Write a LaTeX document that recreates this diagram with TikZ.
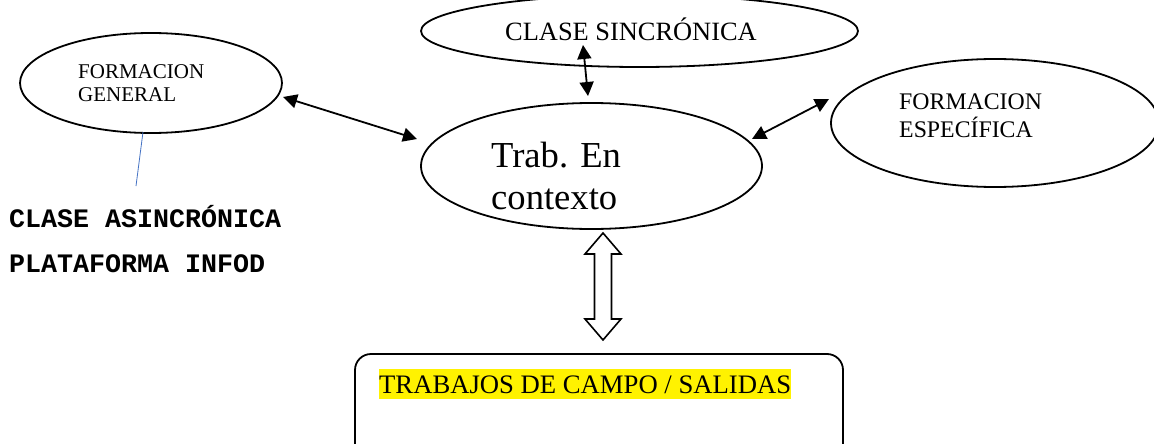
\documentclass[tikz,border=0pt]{standalone}
\usepackage{fontspec}
\setmainfont{Liberation Serif}
\setmonofont{Liberation Mono}
\usetikzlibrary{shapes.geometric,arrows.meta}
\begin{document}
\begin{tikzpicture}[x=1pt,y=-1pt,
  oval/.style={draw,ellipse,line width=1.8pt,inner sep=0pt},
  lbl/.style={anchor=base west,inner sep=0pt},
  conn/.style={line width=1.8pt,{Triangle[length=14pt,width=14pt]}-{Triangle[length=14pt,width=14pt]}},
  hollow/.style={draw,line width=1.6pt,fill=white},
]
\useasboundingbox (0,0) rectangle (1154,444);
\clip (0,0) rectangle (1154,444);
\fill[white] (0,0) rectangle (1154,444);

% ellipses
\node[oval,minimum width=262pt,minimum height=100pt] (fg) at (151,83) {};
\node[oval,minimum width=437pt,minimum height=72pt] (cs) at (639.5,31) {};
\node[oval,minimum width=341pt,minimum height=126pt] (tr) at (591.5,166) {};
\node[oval,minimum width=328pt,minimum height=128pt] (fe) at (995,123) {};
\node[draw,line width=1.8pt,rounded corners=16pt,minimum width=488pt,minimum height=116pt,inner sep=0pt] (box) at (599,412) {};

% texts
\node[lbl,font=\fontsize{21}{24}\selectfont] (fg1) at (78,78) {FORMACION};
\node[lbl,font=\fontsize{21}{24}\selectfont] (fg2) at (78,102) {GENERAL};
\node[lbl,font=\fontsize{26.4}{30}\selectfont] (cs1) at (505,41) {CLASE SINCRÓNICA};
\node[lbl,font=\fontsize{36.6}{42}\selectfont] (tr1) at (491,167) {Trab. En};
\node[lbl,font=\fontsize{36.6}{42}\selectfont] (tr2) at (491,209) {contexto};
\node[lbl,font=\fontsize{23.8}{27}\selectfont] (fe1) at (899,110) {FORMACION};
\node[lbl,font=\fontsize{23.8}{27}\selectfont] (fe2) at (899,137) {ESPECÍFICA};
\node[lbl,font=\ttfamily\bfseries\fontsize{26.67}{30}\selectfont] (as1) at (9,227) {CLASE ASINCRÓNICA};
\node[lbl,font=\ttfamily\bfseries\fontsize{26.67}{30}\selectfont] (as2) at (9,272) {PLATAFORMA INFOD};
\node[lbl,font=\fontsize{26.67}{30}\selectfont,fill=yellow,text height=24pt,text depth=6pt] (tc) at (379,393) {TRABAJOS DE CAMPO / SALIDAS};

% connectors
\coordinate (fgE) at (283,97);
\coordinate (trW) at (417,139);
\coordinate (trE) at (752,139);
\coordinate (feW) at (829,99);
\coordinate (csS) at (583,45);
\coordinate (trN) at (588,96);
\coordinate (fgS) at (143,132);
\coordinate (asN) at (136,186);
\draw[conn] (fgE) -- (trW);
\draw[conn] (trE) -- (feW);
\draw[conn] (csS) -- (trN);
\draw[draw={rgb,255:red,68;green,114;blue,196},line width=0.8pt] (fgS) -- (asN);

% hollow double arrow between context and field work
\draw[hollow] (603,233) -- (621,254) -- (611.5,254) -- (611.5,319) -- (621,319) -- (603,340)
  -- (585,319) -- (594.5,319) -- (594.5,254) -- (585,254) -- cycle;
\end{tikzpicture}
\end{document}
